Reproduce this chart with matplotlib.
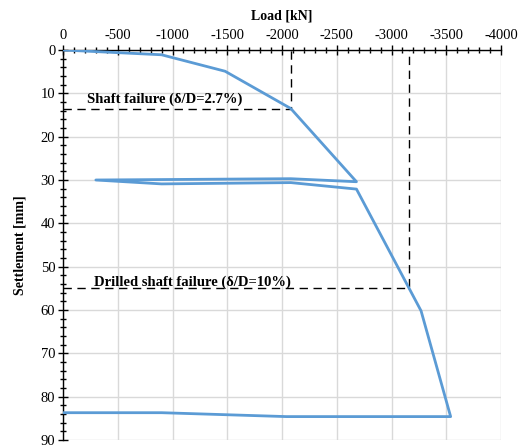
import matplotlib
matplotlib.use('Agg')
import matplotlib.pyplot as plt
from matplotlib.ticker import MultipleLocator

# load-settlement curve (kN, mm)
load = [0, -900, -1480, -2080, -2680, -2080, -300, -900, -2080, -2680, -3270, -3540, -2040, -900, 0]
settlement = [0, 1.1, 4.9, 13.5, 30.4, 29.7, 30.0, 30.9, 30.6, 32.1, 60.2, 84.6, 84.6, 83.7, 83.7]

# failure markers
shaft_load, shaft_settle = -2080, 13.5
drilled_load, drilled_settle = -3160, 55.0

plt.rcParams['font.family'] = ['Liberation Serif', 'DejaVu Serif']
plt.rcParams['axes.unicode_minus'] = False

fig = plt.figure(figsize=(5.27, 4.45), dpi=100)
ax = fig.add_axes([63 / 527, 5 / 445, 438 / 527, 390 / 445])

ax.plot(load, settlement, color='#5b9bd5', lw=2, zorder=3)

# dashed guide lines
ax.plot([0, shaft_load, shaft_load], [shaft_settle, shaft_settle, 0],
        color='black', lw=1, ls=(0, (6, 4)), zorder=2)
ax.plot([0, drilled_load, drilled_load], [drilled_settle, drilled_settle, 0],
        color='black', lw=1, ls=(0, (6, 4)), zorder=2)

ax.text(-220, 12.2, 'Shaft failure (δ/D=2.7%)', fontsize=10.5, fontweight='bold')
ax.text(-280, 54.4, 'Drilled shaft failure (δ/D=10%)', fontsize=10.5, fontweight='bold')

ax.set_xlim(0, -4000)
ax.set_ylim(90, 0)
ax.xaxis.set_major_locator(MultipleLocator(500))
ax.xaxis.set_minor_locator(MultipleLocator(100))
ax.yaxis.set_major_locator(MultipleLocator(10))
ax.yaxis.set_minor_locator(MultipleLocator(2))
ax.xaxis.tick_top()
ax.xaxis.set_label_position('top')

ax.tick_params(which='major', direction='inout', length=7, width=1, labelsize=10.5, pad=2)
ax.tick_params(which='minor', direction='inout', length=4, width=1)
ax.tick_params(axis='x', which='both', top=True, bottom=False)

ax.grid(True, which='major', color='#d9d9d9', lw=1, zorder=0)
ax.set_axisbelow(True)

for side in ['right', 'bottom']:
    ax.spines[side].set_visible(False)
ax.spines['left'].set_linewidth(1)
ax.spines['top'].set_linewidth(1)

ax.set_xlabel('Load [kN]', fontsize=10, fontweight='bold', labelpad=7)
ax.set_ylabel('Settlement [mm]', fontsize=10, fontweight='bold', labelpad=10)

fig.savefig('out.png', dpi=100)
